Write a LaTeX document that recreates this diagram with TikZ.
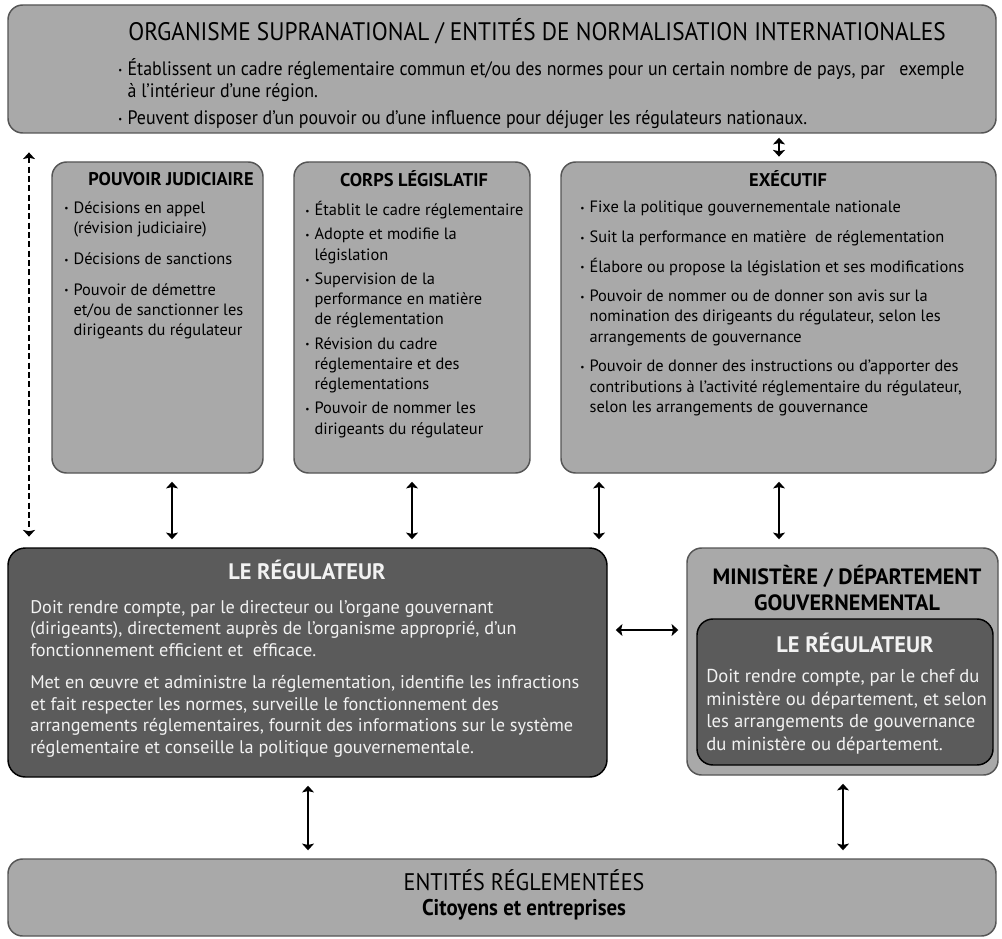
\documentclass[tikz,border=0pt]{standalone}
\usepackage{fontspec}
\setmainfont{PT Sans}
\newfontfamily\narrowfont[FakeStretch=0.92]{PT Sans}
\usetikzlibrary{arrows.meta,fit,positioning}

\definecolor{boxgray}{HTML}{A9A9A9}
\definecolor{edgegray}{HTML}{555555}
\definecolor{regfill}{HTML}{5B5B5B}
\definecolor{regtext}{HTML}{F2F2F2}

\newcommand{\itm}{\makebox[7pt][l]{\raisebox{0.15ex}{\scriptsize\textbullet}}}
\newcommand{\ind}{\hspace*{7pt}}

\tikzset{
  lbox/.style={draw=edgegray, line width=1.1pt, fill=boxgray, rounded corners=11pt, inner sep=0pt},
  dbox/.style={draw=black, line width=1.1pt, fill=regfill, rounded corners=13pt, inner sep=0pt},
  colhead/.style={font=\bfseries\fontsize{13.8}{16}\selectfont, inner sep=0pt},
  coltext/.style={font=\fontsize{12.3}{15.2}\selectfont, align=left, anchor=north west, inner sep=0pt},
  reghead/.style={font=\bfseries\fontsize{16.8}{20}\selectfont, text=regtext, inner sep=0pt},
  link/.style={{Stealth[length=5pt,width=9pt,inset=1pt]}-{Stealth[length=5pt,width=9pt,inset=1pt]}, line width=1.4pt, shorten <=6pt, shorten >=6pt},
}

\begin{document}
\begin{tikzpicture}[x=0.75pt, y=-0.75pt]
  \useasboundingbox (0,0) rectangle (1002,938);

  % columns and rows used by the connectors
  \coordinate (coldash) at (29,0);
  \coordinate (coljud) at (172,0);
  \coordinate (colcorps) at (412,0);
  \coordinate (colexa) at (599,0);
  \coordinate (colexb) at (779,0);
  \coordinate (colreg) at (308,0);
  \coordinate (colmin) at (843,0);
  \coordinate (rowh) at (0,630);

  % boxes
  \node[lbox, fit={(8,5) (996,133)}] (supra) {};
  \node[lbox, fit={(52,162) (263,473)}] (jud) {};
  \node[lbox, fit={(294,162) (530,473)}] (corps) {};
  \node[lbox, fit={(561,162) (996,473)}] (exec) {};
  \node[dbox, fit={(8,548) (607,777)}] (reg) {};
  \node[lbox, fit={(687,548) (998,775)}] (mini) {};
  \node[dbox, rounded corners=12pt, fit={(697,619) (993,765)}] (minreg) {};
  \node[lbox, fit={(8,859) (996,936)}] (ent) {};

  % supranational
  \node[font=\narrowfont\fontsize{19}{22}\selectfont, inner sep=0pt] (supratitle) at (537,31)
    {ORGANISME SUPRANATIONAL / ENTITÉS DE NORMALISATION INTERNATIONALES};
  \node[font=\narrowfont\fontsize{14.6}{16.8}\selectfont, align=left, anchor=north west, inner sep=0pt] (supratext) at (118,58)
    {\itm Établissent un cadre réglementaire commun et/ou des normes pour un certain nombre de pays, par\ \ \ exemple\\
     \ind à l’intérieur d’une région.\\[3pt]
     \itm Peuvent disposer d’un pouvoir ou d’une influence pour déjuger les régulateurs nationaux.};

  % pouvoir judiciaire
  \node[colhead] (judtitle) at (171,179) {POUVOIR JUDICIAIRE};
  \node[coltext] (judtext) at (64,201)
    {\itm Décisions en appel\\
     \ind (révision judiciaire)\\[8pt]
     \itm Décisions de sanctions\\[8pt]
     \itm Pouvoir de démettre\\
     \ind et/ou de sanctionner les\\
     \ind dirigeants du régulateur};

  % corps legislatif
  \node[colhead] (corpstitle) at (414,179) {CORPS LÉGISLATIF};
  \node[coltext] (corpstext) at (305,201)
    {\itm Établit le cadre réglementaire\\[3pt]
     \itm Adopte et modifie la\\
     \ind législation\\[3pt]
     \itm Supervision de la\\
     \ind performance en matière\\
     \ind de réglementation\\[3pt]
     \itm Révision du cadre\\
     \ind réglementaire et des\\
     \ind réglementations\\[3pt]
     \itm Pouvoir de nommer les\\
     \ind dirigeants du régulateur};

  % executif
  \node[colhead] (exectitle) at (788,179) {EXÉCUTIF};
  \node[coltext] (exectext) at (580,201)
    {\itm Fixe la politique gouvernementale nationale\\[7pt]
     \itm Suit la performance en matière\ \ de réglementation\\[7pt]
     \itm Élabore ou propose la législation et ses modifications\\[7pt]
     \itm Pouvoir de nommer ou de donner son avis sur la\\
     \ind nomination des dirigeants du régulateur, selon les\\
     \ind arrangements de gouvernance\\[7pt]
     \itm Pouvoir de donner des instructions ou d’apporter des\\
     \ind contributions à l’activité réglementaire du régulateur,\\
     \ind selon les arrangements de gouvernance};

  % le regulateur
  \node[reghead] (regtitle) at (307,570) {LE RÉGULATEUR};
  \node[font=\fontsize{13.7}{16.2}\selectfont, text=regtext, align=left, anchor=north west, inner sep=0pt] (regtext) at (30,600)
    {Doit rendre compte, par le directeur ou l’organe gouvernant\\
     (dirigeants), directement auprès de l’organisme approprié, d’un\\
     fonctionnement efficient et\ \ efficace.\\[8pt]
     Met en œuvre et administre la réglementation, identifie les infractions\\
     et fait respecter les normes, surveille le fonctionnement des\\
     arrangements réglementaires, fournit des informations sur le système\\
     réglementaire et conseille la politique gouvernementale.};

  % ministere
  \node[font=\bfseries\fontsize{16.6}{20}\selectfont, align=center, inner sep=0pt] (minititle) at (847,588)
    {MINISTÈRE / DÉPARTEMENT\\ GOUVERNEMENTAL};
  \node[reghead] (minregtitle) at (855,643) {LE RÉGULATEUR};
  \node[font=\fontsize{14}{17}\selectfont, text=regtext, align=left, anchor=north west, inner sep=0pt] (minregtext) at (706,669)
    {Doit rendre compte, par le chef du\\
     ministère ou département, et selon\\
     les arrangements de gouvernance\\
     du ministère ou département.};

  % entites reglementees
  \node[font=\narrowfont\fontsize{18}{20}\selectfont, inner sep=0pt] (enttitle) at (524,880) {ENTITÉS RÉGLEMENTÉES};
  \node[font=\narrowfont\bfseries\fontsize{17}{19}\selectfont, inner sep=0pt] (entsub) at (524,910) {Citoyens et entreprises};

  % connectors
  \draw[link, dash pattern=on 4.5pt off 2.5pt, line width=1.9pt, shorten <=14pt, shorten >=8pt] (supra.south -| coldash) -- (reg.north -| coldash);
  \draw[link, shorten <=3pt, shorten >=3.5pt] (supra.south -| colexb) -- (exec.north -| colexb);
  \draw[link] (jud.south -| coljud) -- (reg.north -| coljud);
  \draw[link] (corps.south -| colcorps) -- (reg.north -| colcorps);
  \draw[link] (exec.south -| colexa) -- (reg.north -| colexa);
  \draw[link] (exec.south -| colexb) -- (mini.north -| colexb);
  \draw[link] (reg.east |- rowh) -- (mini.west |- rowh);
  \draw[link] (reg.south -| colreg) -- (ent.north -| colreg);
  \draw[link] (mini.south -| colmin) -- (ent.north -| colmin);
\end{tikzpicture}
\end{document}
